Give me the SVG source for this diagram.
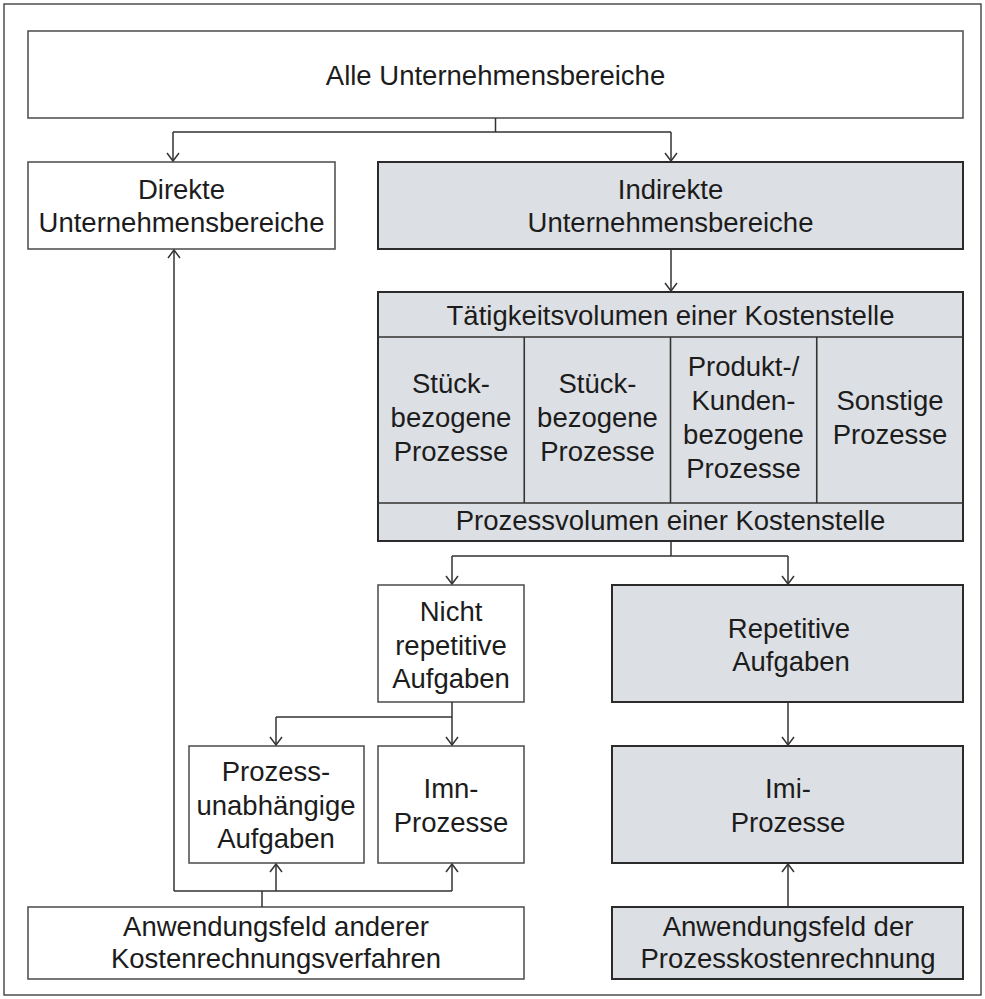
<svg xmlns="http://www.w3.org/2000/svg" width="985" height="999" viewBox="0 0 985 999">
<defs>
<marker id="arr" markerUnits="userSpaceOnUse" markerWidth="20" markerHeight="20" viewBox="-10 -10 20 20" refX="0" refY="0" orient="auto">
<path d="M-8,-6 L0,0 L-8,6" fill="none" stroke="#333" stroke-width="1.5"/>
</marker>
<style>
.frame{fill:#fff;stroke:#333;stroke-width:1.3}
.w{fill:#fff;stroke:#555;stroke-width:1.6}
.g{fill:#dcdfe3;stroke:#2b2b2b;stroke-width:2}
.div{stroke:#333;stroke-width:1.6;fill:none}
.c{fill:none;stroke:#333;stroke-width:1.5}
.a{marker-end:url(#arr)}
text{font-family:"Liberation Sans",Arial,Helvetica,sans-serif;font-size:27.5px;fill:#1c1c1c;text-anchor:middle}
</style>
</defs>
<rect class="frame" x="4" y="4" width="977" height="991"/>

<g id="alle">
<rect class="w" x="28" y="31" width="935" height="87"/>
<text x="495.5" y="85">Alle Unternehmensbereiche</text>
</g>
<g id="direkte">
<rect class="w" x="28" y="162" width="307" height="87"/>
<text x="181.5" y="199">Direkte</text>
<text x="181.5" y="232">Unternehmensbereiche</text>
</g>
<g id="indirekte">
<rect class="g" x="378" y="162" width="585" height="87"/>
<text x="670.5" y="199">Indirekte</text>
<text x="670.5" y="232">Unternehmensbereiche</text>
</g>
<g id="kostenstelle">
<rect class="g" x="378" y="292" width="585" height="249"/>
<path class="div" d="M378,337 H963 M378,503 H963 M524.25,337 V503 M670.5,337 V503 M816.75,337 V503"/>
<text x="670.5" y="325">Tätigkeitsvolumen einer Kostenstelle</text>
<text x="451" y="393">Stück-</text>
<text x="451" y="427">bezogene</text>
<text x="451" y="461">Prozesse</text>
<text x="597.5" y="393">Stück-</text>
<text x="597.5" y="427">bezogene</text>
<text x="597.5" y="461">Prozesse</text>
<text x="743.5" y="376">Produkt-/</text>
<text x="743.5" y="410">Kunden-</text>
<text x="743.5" y="444">bezogene</text>
<text x="743.5" y="478">Prozesse</text>
<text x="890" y="410">Sonstige</text>
<text x="890" y="444">Prozesse</text>
<text x="670.5" y="530">Prozessvolumen einer Kostenstelle</text>
</g>
<g id="nicht">
<rect class="w" x="378" y="585" width="146" height="117"/>
<text x="451" y="621">Nicht</text>
<text x="451" y="655">repetitive</text>
<text x="451" y="688">Aufgaben</text>
</g>
<g id="repetitive">
<rect class="g" x="612" y="585" width="351" height="117"/>
<text x="789" y="638">Repetitive</text>
<text x="791" y="671">Aufgaben</text>
</g>
<g id="prozessunabh">
<rect class="w" x="189" y="746" width="175" height="117"/>
<text x="276" y="781">Prozess-</text>
<text x="276" y="815">unabhängige</text>
<text x="276" y="848">Aufgaben</text>
</g>
<g id="imn">
<rect class="w" x="378" y="746" width="146" height="117"/>
<text x="451" y="798">Imn-</text>
<text x="451" y="832">Prozesse</text>
</g>
<g id="imi">
<rect class="g" x="612" y="746" width="351" height="117"/>
<text x="788" y="798">Imi-</text>
<text x="788" y="832">Prozesse</text>
</g>
<g id="anwendung-andere">
<rect class="w" x="28" y="907" width="496" height="72"/>
<text x="276" y="936">Anwendungsfeld anderer</text>
<text x="276" y="968">Kostenrechnungsverfahren</text>
</g>
<g id="anwendung-pkr">
<rect class="g" x="612" y="907" width="351" height="72"/>
<text x="788" y="936">Anwendungsfeld der</text>
<text x="788" y="968">Prozesskostenrechnung</text>
</g>

<g id="connectors">
<path class="c" d="M495.5,118 V132 M173,132 H671"/>
<path class="c a" d="M173,132 V161"/>
<path class="c a" d="M671,132 V161"/>
<path class="c a" d="M671,249 V291"/>
<path class="c" d="M671,541 V556 M452,556 H788"/>
<path class="c a" d="M452,556 V584"/>
<path class="c a" d="M788,556 V584"/>
<path class="c" d="M452,702 V717 M276,717 H452"/>
<path class="c a" d="M276,717 V745"/>
<path class="c a" d="M452,717 V745"/>
<path class="c a" d="M788,702 V745"/>
<path class="c" d="M262,907 V891 M174,891 H452"/>
<path class="c a" d="M174,891 V250"/>
<path class="c a" d="M276,891 V864"/>
<path class="c a" d="M452,891 V864"/>
<path class="c a" d="M788,907 V864"/>
</g>
</svg>
